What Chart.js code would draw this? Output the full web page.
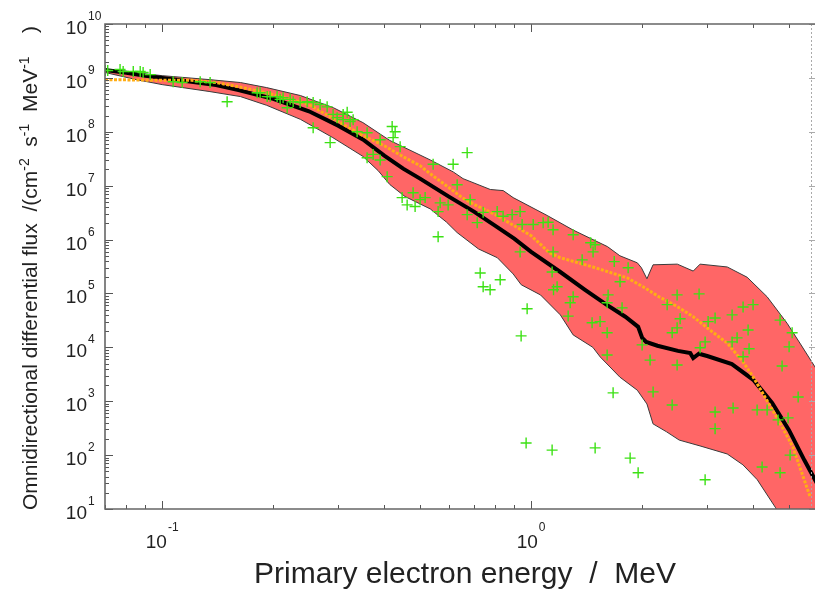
<!DOCTYPE html>
<html>
<head>
<meta charset="utf-8">
<script src="https://cdn.jsdelivr.net/npm/chart.js@4.4.1/dist/chart.umd.min.js"></script>
<style>
  html, body { margin: 0; padding: 0; background: #fff; }
</style>
</head>
<body>
<canvas id="c" width="815" height="591"></canvas>
<script>
// Median flux (black line), energies in MeV, flux in cm-2 s-1 MeV-1
const medianE = [0.07, 0.08, 0.09, 0.1, 0.12, 0.14, 0.16, 0.18, 0.2, 0.25, 0.3, 0.35, 0.4, 0.45, 0.5, 0.6, 0.7, 0.8, 0.9, 1.0,
  1.2, 1.4, 1.6, 1.8, 1.95, 2.0, 2.05, 2.2, 2.5, 2.7, 2.75, 2.85, 3.0, 3.5, 4.0, 4.5, 5.0, 5.5, 5.95];
const medianF = [1.4e9, 1.25e9, 1.1e9, 1.0e9, 8.5e8, 7.4e8, 6.0e8, 4.9e8, 4.1e8, 2.4e8, 1.3e8, 7.2e7, 3.6e7, 2.07e7, 1.35e7, 6.2e6, 3.3e6, 1.8e6, 1.04e6, 5.9e5,
  2.5e5, 1.17e5, 6.2e4, 3.7e4, 2.4e4, 1.5e4, 1.26e4, 1.07e4, 8.6e3, 7.8e3, 6.3e3, 7.6e3, 6.9e3, 4.9e3, 2.5e3, 930, 290, 81, 30];

// Mean flux (orange dotted line)
const meanE = [0.07, 0.1, 0.12, 0.14, 0.16, 0.18, 0.2, 0.25, 0.3, 0.35, 0.4, 0.45, 0.5, 0.533, 0.6, 0.65, 0.7, 0.8, 0.9, 1.0,
  1.07, 1.12, 1.2, 1.47, 1.82, 2.01, 2.22, 2.49, 2.75, 3.05, 3.4, 3.75, 4.0, 4.35, 4.72, 5.12, 5.7];
const meanF = [9.3e8, 9.0e8, 9.0e8, 8.2e8, 6.9e8, 5.8e8, 4.9e8, 3.2e8, 1.55e8, 8.5e7, 5.5e7, 3.45e7, 2.35e7, 1.66e7, 9.1e6, 6.0e6, 4.5e6, 2.9e6, 1.8e6, 1.18e6,
  7.7e5, 5.7e5, 4.6e5, 3.1e5, 1.95e5, 1.33e5, 8.7e4, 5.7e4, 3.7e4, 2.1e4, 1.2e4, 5.4e3, 2.8e3, 1050, 400, 142, 17];

// Upper and lower envelope of the red band
const upperE = [0.07, 0.1, 0.134, 0.163, 0.192, 0.237, 0.291, 0.35, 0.414, 0.533, 0.615, 0.654, 0.775, 0.84, 0.894, 1.105, 1.3, 1.61, 1.74, 1.94,
  1.99, 2.06, 2.14, 2.49, 2.75, 2.87, 3.4, 3.85, 4.36, 4.94, 5.35, 5.95];
const upperF = [1.43e9, 1.1e9, 9.3e8, 8.2e8, 6.6e8, 4.7e8, 2.8e8, 1.48e8, 6.9e7, 3.0e7, 1.8e7, 1.35e7, 8.5e6, 8.1e6, 6.0e6, 2.8e6, 1.5e6, 7.4e5, 5.0e5, 3.7e5,
  3.0e5, 1.87e5, 3.4e5, 3.5e5, 2.6e5, 3.5e5, 3.1e5, 2.0e5, 8.7e4, 2.8e4, 1.2e4, 3.8e3];
const lowerE = [0.07, 0.085, 0.1, 0.134, 0.163, 0.192, 0.237, 0.29, 0.35, 0.385, 0.414, 0.455, 0.533, 0.59, 0.63, 0.72, 0.81, 0.894, 0.94, 1.06,
  1.2, 1.3, 1.47, 1.54, 1.74, 1.94, 2.06, 2.14, 2.33, 2.52, 2.87, 3.4, 3.75, 4.1, 4.6, 5.0, 5.95];
const lowerF = [1.26e9, 9.3e8, 7.5e8, 5.6e8, 4.5e8, 3.1e8, 1.7e8, 7.8e7, 3.5e7, 1.9e7, 1.05e7, 6.3e6, 3.7e6, 2.1e6, 1.35e6, 6.7e5, 4.6e5, 2.3e5, 1.45e5, 9.4e4,
  4.0e4, 1.7e4, 1.0e4, 6.6e3, 2.8e3, 1.6e3, 890, 380, 270, 190, 148, 105, 66, 35, 10.5, 3, 1];

// Individual measurements (green crosses)
const pointE = [0.0701, 0.0712, 0.0769, 0.0784, 0.0835, 0.0872, 0.0888, 0.0928, 0.1071, 0.1133, 0.1268, 0.1349, 0.150, 0.1809, 0.1843, 0.1926, 0.1962, 0.2049, 0.2088, 0.2127,
  0.2182, 0.2223, 0.2265, 0.2366, 0.2472, 0.2566, 0.268, 0.280, 0.2566, 0.2853, 0.2906, 0.298, 0.3094, 0.3173, 0.3094, 0.3232, 0.3293, 0.3376, 0.3593, 0.4201,
  0.428, 0.4227, 0.3898, 0.4416, 0.3593, 0.3731, 0.3898, 0.4072, 0.6709, 0.6147, 0.5425, 0.6303, 0.4471, 0.4613, 0.4788, 0.5002, 0.5161, 0.4848, 0.5668, 0.5597,
  0.5958, 0.6835, 0.6709, 0.7143, 0.7413, 0.8091, 0.8396, 0.8882, 0.9337, 0.9454, 1.013, 1.078, 1.112, 1.147, 0.5597, 0.9337, 1.14, 0.7277, 0.7413, 0.8244,
  0.7742, 1.176, 0.9754, 0.9395, 0.9692, 1.14, 1.276, 1.26, 1.30, 1.45, 1.472, 1.491, 1.147, 1.375, 1.68, 1.832, 1.742, 1.15, 1.30, 1.617,
  1.607, 1.463, 1.538, 1.607, 1.764, 1.999, 2.101, 1.607, 1.668, 2.141, 2.411, 2.487, 2.853, 2.337, 2.534, 2.487, 2.411, 2.962, 2.871, 2.487,
  3.152, 3.018, 3.505, 3.754, 3.995, 3.873, 3.616, 3.505, 3.897, 3.754, 4.729, 5.098, 5.003, 4.788, 3.152, 3.527, 4.097, 4.361, 3.152, 4.67,
  4.971, 5.293, 1.491, 1.855, 1.95, 2.962, 4.227, 4.729, 5.034];
const pointF = [1.37e9, 1.37e9, 1.43e9, 1.31e9, 1.31e9, 1.31e9, 1.26e9, 1.15e9, 8.5e8, 8.2e8, 8.5e8, 8.2e8, 3.6e8, 5.3e8, 5.3e8, 4.5e8, 4.5e8, 4.5e8, 4.0e8, 4.3e8,
  2.8e8, 4.0e8, 3.6e8, 3.5e8, 3.6e8, 3.5e8, 3.2e8, 2.9e8, 1.19e8, 6.3e7, 2.1e8, 1.83e8, 2.1e8, 2.3e8, 1.68e8, 1.55e8, 1.68e8, 1.0e8, 9.6e7, 1.25e8,
  1.0e8, 7.8e7, 7.1e7, 5.3e7, 3.3e7, 3.8e7, 3.0e7, 1.47e7, 4.1e7, 2.5e7, 2.5e7, 1.04e7, 6.0e6, 4.4e6, 7.4e6, 5.5e6, 6.0e6, 4.1e6, 4.8e6, 3.3e6,
  4.4e6, 5.5e6, 2.9e6, 2.06e6, 3.2e6, 3.3e6, 2.7e6, 2.9e6, 3.3e6, 1.9e6, 1.9e6, 2.06e6, 2.1e6, 1.52e6, 1.13e6, 5.9e5, 2.5e5, 2.4e5, 1.33e5, 1.8e5,
  1.17e5, 1.33e5, 5.2e4, 1.63e4, 168, 124, 6.7e4, 3.8e4, 1.23e6, 8.7e5, 5.9e5, 8.0e5, 5.9e5, 4.2e5, 3.9e5, 3.0e5, 1.65e5, 1.17e5, 8.7e4, 9.4e4,
  6.7e4, 2.85e4, 3.0e4, 1.86e4, 5.4e4, 1.11e4, 5.8e3, 7.2e3, 1.43e3, 1.49e3, 850, 9.4e4, 9.8e4, 6.2e4, 3.4e4, 2.3e4, 1.86e4, 1.26e4, 9.8e3, 4.7e3,
  3.5e4, 3.0e4, 4.0e4, 5.6e4, 6.2e4, 2.1e4, 1.5e4, 1.26e4, 9.4e3, 6.7e3, 3.2e4, 1.86e4, 1.02e4, 4.5e3, 630, 750, 690, 690, 310, 450,
  490, 1200, 136, 88, 47, 35, 60, 47, 100];

// Axis settings and tick labels (powers of ten)
const xMin = 0.07, xMax = 5.88;
const yMin = 10, yMax = 1e10;
const xLabelExps = [-1, 0];
const yLabelExps = [1, 2, 3, 4, 5, 6, 7, 8, 9, 10];
const xTitle = 'Primary electron energy  /  MeV';
const yTitleParts = [['Omnidirectional differential flux  /(cm', 0], ['-2', 1], ['  s', 0], ['-1', 1], ['  MeV', 0], ['-1', 1], ['    )', 0]];

const toXY = (xs, ys) => xs.map((v, i) => ({ x: v, y: ys[i] }));
const bandPts = toXY(upperE, upperF).concat(toXY(lowerE, lowerF).reverse());

const FONT = '"Liberation Sans", Arial, Helvetica, sans-serif';

// draws the frame, inward ticks, labels with superscripts and axis titles
const framePlugin = {
  id: 'frame',
  afterDraw(chart) {
    const { ctx, chartArea: a, scales: { x, y } } = chart;
    ctx.save();
    const minorX = [], minorY = [];
    for (let e = -2; e <= 0; e++) {
      for (let k = 1; k <= 9; k++) {
        const v = k * Math.pow(10, e);
        if (v >= xMin && v <= xMax) minorX.push({ v, major: k === 1 });
      }
    }
    for (let e = 1; e <= 10; e++) {
      for (let k = 1; k <= 9; k++) {
        const v = k * Math.pow(10, e);
        if (v >= yMin && v <= yMax) minorY.push({ v, major: k === 1 });
      }
    }
    // ticks
    ctx.strokeStyle = '#555';
    ctx.lineWidth = 1;
    ctx.beginPath();
    minorX.forEach(t => {
      const px = Math.round(x.getPixelForValue(t.v)) + 0.5;
      const len = t.major ? 8 : 4;
      ctx.moveTo(px, a.bottom); ctx.lineTo(px, a.bottom - len);
      ctx.moveTo(px, a.top); ctx.lineTo(px, a.top + len);
    });
    minorY.forEach(t => {
      const py = Math.round(y.getPixelForValue(t.v)) + 0.5;
      const len = t.major ? 8 : 4;
      ctx.moveTo(a.left, py); ctx.lineTo(a.left + len, py);
    });
    ctx.stroke();
    // faint right edge
    ctx.strokeStyle = '#aaa';
    ctx.setLineDash([2, 2]);
    ctx.beginPath();
    ctx.moveTo(a.right - 3.5, a.top); ctx.lineTo(a.right - 3.5, a.bottom);
    ctx.stroke();
    ctx.setLineDash([]);
    ctx.beginPath();
    minorY.forEach(t => {
      if (!t.major) return;
      const py = Math.round(y.getPixelForValue(t.v)) + 0.5;
      ctx.moveTo(a.right, py); ctx.lineTo(a.right - 6, py);
    });
    ctx.stroke();
    // axis lines
    ctx.strokeStyle = '#666';
    ctx.lineWidth = 1.6;
    ctx.beginPath();
    ctx.moveTo(a.right, a.top); ctx.lineTo(a.left, a.top);
    ctx.lineTo(a.left, a.bottom); ctx.lineTo(a.right, a.bottom);
    ctx.stroke();

    ctx.fillStyle = '#222';
    ctx.textBaseline = 'alphabetic';
    // y labels
    yLabelExps.forEach(e => {
      const py = y.getPixelForValue(Math.pow(10, e));
      ctx.font = '19px ' + FONT;
      ctx.textAlign = 'right';
      ctx.fillText('10', 87, py + 10);
      ctx.font = '12px ' + FONT;
      ctx.textAlign = 'left';
      ctx.fillText(String(e), 88, py - 4);
    });
    // x labels
    xLabelExps.forEach(e => {
      const px = x.getPixelForValue(Math.pow(10, e));
      ctx.font = '19px ' + FONT;
      const w1 = ctx.measureText('10').width;
      ctx.font = '12px ' + FONT;
      const w2 = ctx.measureText(String(e)).width;
      const x0 = px - (w1 + w2 + 1) / 2;
      ctx.textAlign = 'left';
      ctx.font = '19px ' + FONT;
      ctx.fillText('10', x0, a.bottom + 39);
      ctx.font = '12px ' + FONT;
      ctx.fillText(String(e), x0 + w1 + 1, a.bottom + 22);
    });
    // x title
    ctx.font = '30px ' + FONT;
    ctx.textAlign = 'center';
    ctx.fillText(xTitle, 465, 583);
    // y title, rotated with superscripts, reads upward from the bottom of the plot
    const big = '21px ' + FONT, small = '14px ' + FONT;
    ctx.translate(37, 510);
    ctx.rotate(-Math.PI / 2);
    ctx.textAlign = 'left';
    let off = 0;
    yTitleParts.forEach(([t, sup]) => {
      ctx.font = sup ? small : big;
      ctx.fillText(t, off, sup ? -8 : 0);
      off += ctx.measureText(t).width;
    });
    ctx.restore();
  }
};

new Chart(document.getElementById('c'), {
  type: 'line',
  data: {
    datasets: [
      {
        label: 'range',
        data: bandPts,
        fill: 'shape',
        backgroundColor: '#ff6666',
        borderColor: '#3a3a3a',
        borderWidth: 1,
        pointRadius: 0,
        tension: 0,
        order: 4
      },
      {
        label: 'median',
        data: toXY(medianE, medianF),
        borderColor: '#000',
        borderWidth: 4,
        pointRadius: 0,
        tension: 0,
        fill: false,
        order: 3
      },
      {
        label: 'mean',
        data: toXY(meanE, meanF),
        borderColor: '#ffad14',
        borderWidth: 3,
        borderDash: [3, 1.5],
        pointRadius: 0,
        tension: 0,
        fill: false,
        order: 2
      },
      {
        label: 'measurements',
        data: toXY(pointE, pointF),
        showLine: false,
        pointStyle: 'cross',
        pointRadius: 5.5,
        pointBorderWidth: 1.4,
        pointBorderColor: 'rgb(60,225,20)',
        pointBackgroundColor: 'rgb(60,225,20)',
        fill: false,
        order: 1
      }
    ]
  },
  options: {
    responsive: false,
    animation: false,
    layout: { autoPadding: false, padding: { left: 105, top: 24, right: 0, bottom: 82 } },
    plugins: { legend: { display: false }, tooltip: { enabled: false } },
    scales: {
      x: { type: 'logarithmic', min: xMin, max: xMax, display: false },
      y: { type: 'logarithmic', min: yMin, max: yMax, display: false }
    }
  },
  plugins: [framePlugin]
});
</script>
</body>
</html>
